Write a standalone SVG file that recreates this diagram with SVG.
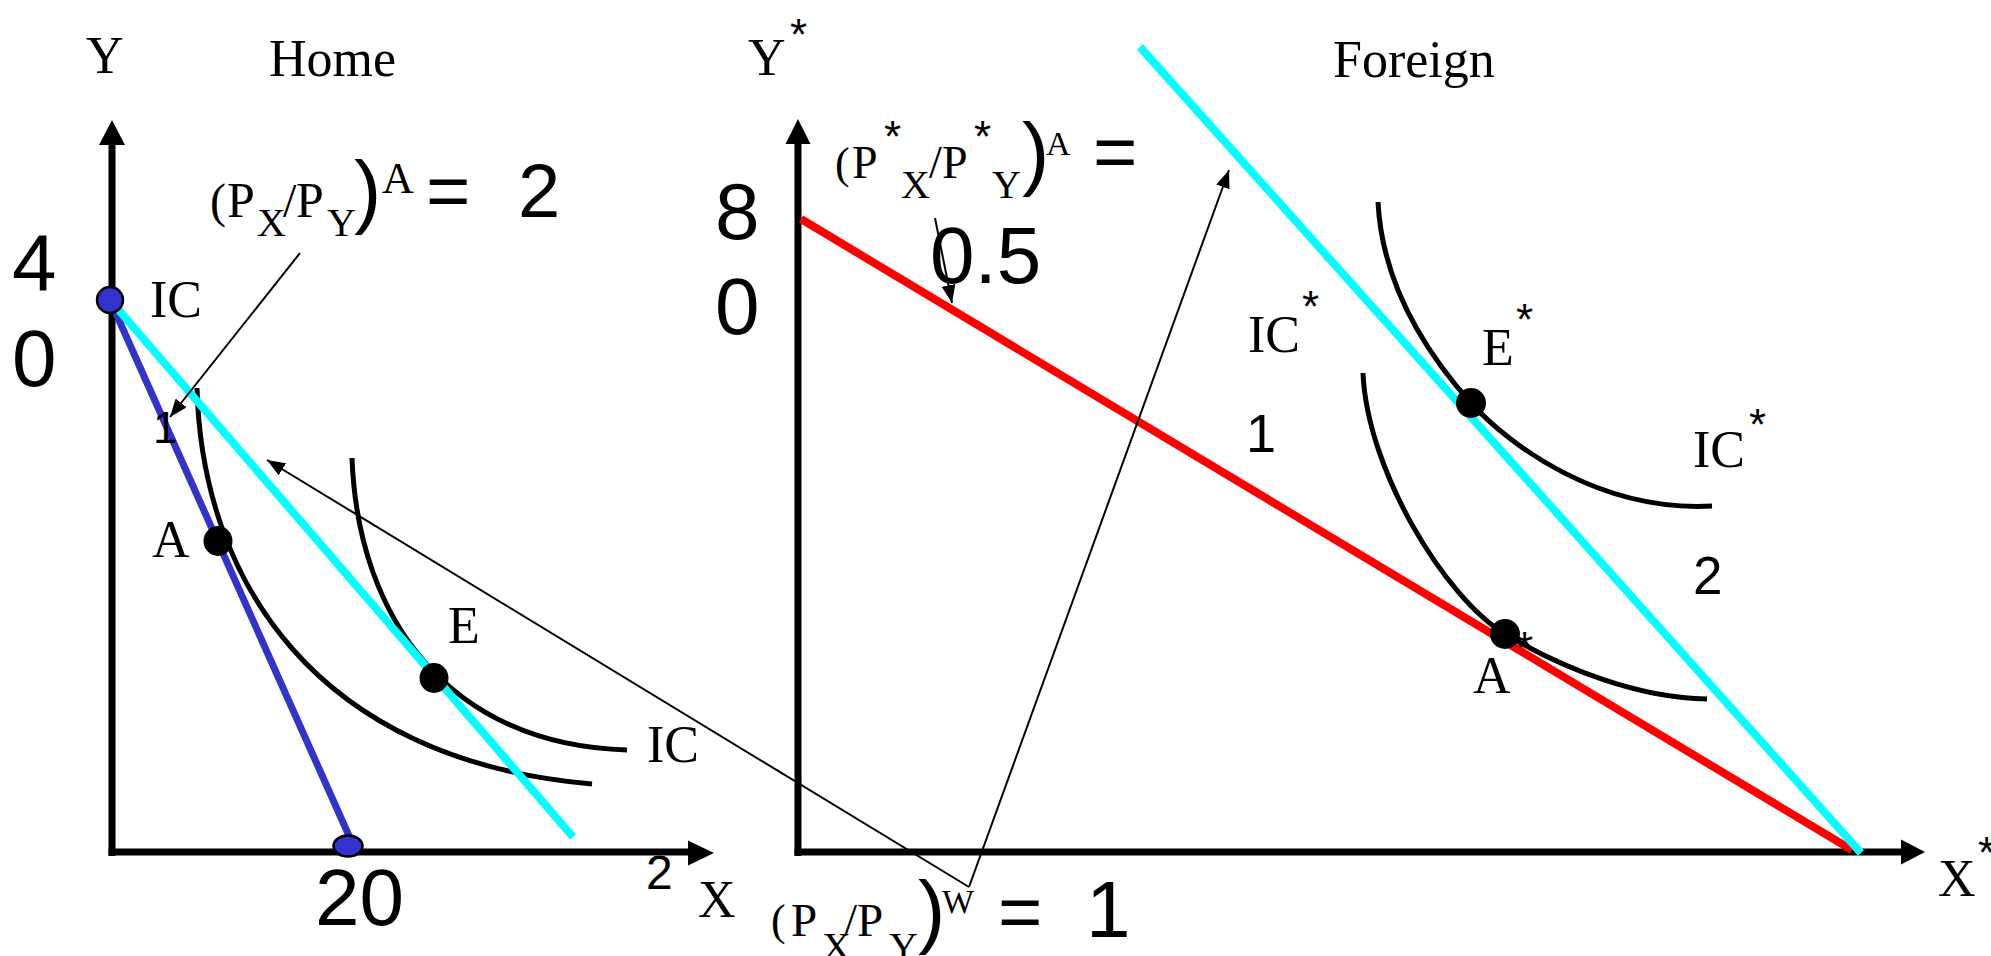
<svg xmlns="http://www.w3.org/2000/svg" width="1991" height="956" viewBox="0 0 1991 956">
<defs>
<style>
.serif{font-family:"Liberation Serif","Times New Roman",serif;fill:#000}
.sans{font-family:"Liberation Sans",Arial,sans-serif;fill:#000}
.axis{stroke:#000;stroke-width:7;fill:none}
.head{fill:#000}
.ic{stroke:#000;stroke-width:5;fill:none}
.lead{stroke:#000;stroke-width:2;fill:none;marker-end:url(#ah)}
.cyan{stroke:#00FFFF;stroke-width:8;fill:none}
.blue{stroke:#3333CC;stroke-width:7;fill:none}
.red{stroke:#FF0000;stroke-width:8;fill:none}
.bdot{fill:#3333CC;stroke:#000;stroke-width:2.5}
.dot{fill:#000}
.lbl{font-size:52px}
.big{font-size:80px}
</style>
<marker id="ah" markerUnits="userSpaceOnUse" markerWidth="20" markerHeight="14" refX="18" refY="7" orient="auto" viewBox="0 0 20 14"><path d="M0,0 L18,7 L0,14 z" fill="#000"/></marker>
</defs>
<rect width="1991" height="956" fill="#fff"/>

<g id="home-axes">
<line class="axis" x1="112" y1="856" x2="112" y2="140"/>
<polygon class="head" points="112,120 99,145 125,145"/>
<line class="axis" x1="108.5" y1="852" x2="692" y2="852"/>
<polygon class="head" points="714,853 688,840.5 688,865.5"/>
</g>

<g id="foreign-axes">
<line class="axis" x1="798" y1="856" x2="798" y2="140"/>
<polygon class="head" points="798,119 785.5,144 810.5,144"/>
<line class="axis" x1="794.5" y1="852" x2="1904" y2="852"/>
<polygon class="head" points="1925,852 1901,839.5 1901,864.5"/>
</g>

<g id="home-curves">
<path id="home-ic1" class="ic" d="M197,388 C202,580 315,760 592,784"/>
<path id="home-ic2" class="ic" d="M352,458 C358,620 450,745 627,750"/>
</g>

<g id="foreign-curves">
<path id="foreign-ic1" class="ic" d="M1363,373 C1367,470 1445,598 1505,634 C1565,670 1640,698 1707,699"/>
<path id="foreign-ic2" class="ic" d="M1378,202 C1382,280 1420,346 1471,403 C1510,446 1600,512 1712,506"/>
</g>

<g id="budget-lines">
<line id="foreign-autarky" class="red" x1="801" y1="219" x2="1852" y2="850"/>
<line id="home-autarky" class="blue" x1="110" y1="300" x2="350" y2="838"/>
<line id="home-trade" class="cyan" x1="110" y1="300" x2="573" y2="837"/>
<line id="foreign-trade" class="cyan" x1="1140" y1="47" x2="1861" y2="853"/>
</g>

<g id="labels-under">
<text class="sans" x="1516" y="663" font-size="44">*</text>
</g>

<g id="points">
<circle id="home-y-intercept" class="bdot" cx="110" cy="300" r="13"/>
<ellipse id="home-x-intercept" class="bdot" cx="348" cy="846" rx="14.5" ry="10.5"/>
<ellipse id="pt-A" class="dot" cx="218" cy="541" rx="14.5" ry="15"/>
<ellipse id="pt-E" class="dot" cx="434" cy="678" rx="14.5" ry="15"/>
<ellipse id="pt-Estar" class="dot" cx="1471" cy="403" rx="15" ry="15"/>
<ellipse id="pt-Astar" class="dot" cx="1505" cy="634" rx="15" ry="15"/>
</g>

<g id="connectors">
<line class="lead" x1="300" y1="253" x2="170" y2="417"/>
<line class="lead" x1="969" y1="887" x2="267" y2="460"/>
<line class="lead" x1="969" y1="887" x2="1229" y2="170"/>
<line class="lead" x1="935" y1="218" x2="952" y2="303"/>
</g>

<g id="home-labels">
<text class="serif lbl" x="86" y="73">Y</text>
<text class="serif lbl" x="269" y="76">Home</text>
<text class="sans big" x="12" y="290">4</text>
<text class="sans big" x="12" y="386">0</text>
<text class="sans big" x="315" y="925">20</text>
<text class="serif lbl" x="150" y="317">IC</text>
<text class="sans" x="153" y="443" font-size="44">1</text>
<text class="serif lbl" x="152" y="557">A</text>
<text class="serif lbl" x="448" y="643">E</text>
<text class="serif lbl" x="647" y="762">IC</text>
<text class="sans" x="646" y="889" font-size="48">2</text>
<text class="serif lbl" x="698" y="917">X</text>
</g>

<g id="home-price-label">
<text class="serif" x="210" y="217" font-size="48">(</text>
<text class="serif" x="227" y="217" font-size="50">P</text>
<text class="serif" x="257" y="236" font-size="40">X</text>
<text class="serif" x="283" y="217" font-size="48">/</text>
<text class="serif" x="296" y="217" font-size="50">P</text>
<text class="serif" x="327" y="236" font-size="40">Y</text>
<text class="sans" x="354" y="218" font-size="82">)</text>
<text class="serif" x="382" y="193" font-size="44">A</text>
<text class="sans" x="426" y="217" font-size="76">=</text>
<text class="sans" x="518" y="217" font-size="76">2</text>
</g>

<g id="foreign-labels">
<text class="serif lbl" x="748" y="75">Y</text>
<text class="sans" x="790" y="50" font-size="44">*</text>
<text class="serif lbl" x="1333" y="77">Foreign</text>
<text class="sans big" x="715" y="239">8</text>
<text class="sans big" x="715" y="334">0</text>
<text class="serif lbl" x="1248" y="352">IC</text>
<text class="sans" x="1302" y="322" font-size="44">*</text>
<text class="sans" x="1246" y="452" font-size="54">1</text>
<text class="serif lbl" x="1482" y="365">E</text>
<text class="sans" x="1516" y="335" font-size="44">*</text>
<text class="serif lbl" x="1693" y="467">IC</text>
<text class="sans" x="1749" y="440" font-size="44">*</text>
<text class="sans" x="1693" y="594" font-size="53">2</text>
<text class="serif lbl" x="1473" y="693">A</text>
<text class="serif lbl" x="1938" y="896">X</text>
<text class="sans" x="1978" y="868" font-size="44">*</text>
</g>

<g id="foreign-price-label">
<text class="serif" x="835" y="178" font-size="44">(</text>
<text class="serif" x="852" y="178" font-size="46">P</text>
<text class="sans" x="884" y="152" font-size="44">*</text>
<text class="serif" x="901" y="198" font-size="40">X</text>
<text class="serif" x="929" y="178" font-size="46">/</text>
<text class="serif" x="942" y="178" font-size="46">P</text>
<text class="sans" x="974" y="152" font-size="44">*</text>
<text class="serif" x="992" y="198" font-size="40">Y</text>
<text class="sans" x="1022" y="180" font-size="82">)</text>
<text class="serif" x="1046" y="155" font-size="34">A</text>
<text class="sans" x="1093" y="178" font-size="76">=</text>
<text class="sans big" x="930" y="283">0.5</text>
</g>

<g id="world-price-label">
<text class="serif" x="771" y="935" font-size="44">(</text>
<text class="serif" x="791" y="936" font-size="47">P</text>
<text class="serif" x="822" y="960" font-size="40">X</text>
<text class="serif" x="844" y="936" font-size="47">/</text>
<text class="serif" x="857" y="936" font-size="47">P</text>
<text class="serif" x="889" y="960" font-size="40">Y</text>
<text class="sans" x="918" y="938" font-size="82">)</text>
<text class="serif" x="942" y="913" font-size="34">W</text>
<text class="sans" x="998" y="938" font-size="76">=</text>
<text class="sans big" x="1086" y="937">1</text>
</g>
</svg>
